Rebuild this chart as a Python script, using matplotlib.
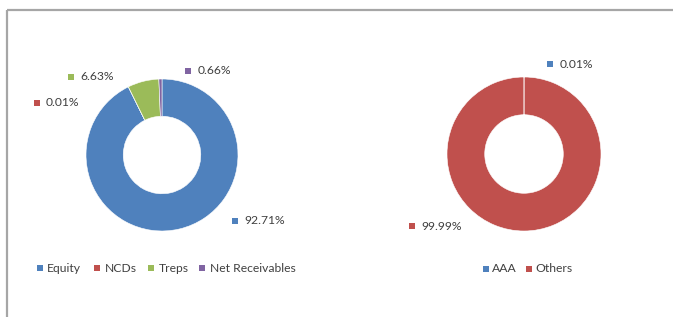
import matplotlib
matplotlib.use("Agg")
import matplotlib.pyplot as plt

# asset allocation (left donut)
alloc_labels = ["Equity", "NCDs", "Treps", "Net Receivables"]
alloc_values = [92.71, 0.01, 6.63, 0.66]
alloc_colors = ["#4F81BD", "#C0504D", "#9BBB59", "#8064A2"]

# rating profile (right donut)
rating_labels = ["AAA", "Others"]
rating_values = [0.01, 99.99]
rating_colors = ["#4F81BD", "#C0504D"]

W, H = 673, 317
plt.rcParams['font.family'] = ['Lato', 'DejaVu Sans']
text_col = "#404040"
fs = 8.7

fig = plt.figure(figsize=(W / 100, H / 100), dpi=100)
ax = fig.add_axes([0, 0, 1, 1])
ax.set_xlim(0, W)
ax.set_ylim(0, H)
ax.set_aspect("equal")
ax.axis("off")

def y(py):
    # pixel row from the top -> data y
    return H - py

# frame
ax.plot([6.5, W], [y(9.5), y(9.5)], color="#A6A6A6", lw=1.6, solid_capstyle="butt")
ax.plot([6.5, 6.5], [y(9.5), 0], color="#A6A6A6", lw=1.6, solid_capstyle="butt")

def donut(values, colors, cx, cy, r):
    ax.pie(values, colors=colors, center=(cx, y(cy)), radius=r,
           startangle=90, counterclock=False,
           wedgeprops=dict(width=r * 0.49, edgecolor="white", linewidth=0.4))

donut(alloc_values, alloc_colors, 162, 155, 76)
donut(rating_values, rating_colors, 524, 154, 77)
ax.set_xlim(0, W)
ax.set_ylim(0, H)

def tag(px, py, color, txt, gap):
    ax.scatter([px], [y(py)], marker="s", s=25, color=color, linewidths=0)
    ax.text(px + gap, y(py), txt, fontsize=fs, color=text_col, va="center", ha="left")

# data labels (pixel positions of the marker squares)
alloc_pos = [(234.5, 221), (36.5, 103), (70.5, 77), (188, 71)]
for (px, py), v, c in zip(alloc_pos, alloc_values, alloc_colors):
    tag(px, py, c, f"{v:.2f}%", 9.5)

rating_pos = [(550, 64), (411.5, 226)]
for (px, py), v, c in zip(rating_pos, rating_values, rating_colors):
    tag(px, py, c, f"{v:.2f}%", 9.5)

# legends
alloc_leg_x = [39.5, 97, 151, 202]
for px, lab, c in zip(alloc_leg_x, alloc_labels, alloc_colors):
    tag(px, 268, c, lab, 7.5)

rating_leg_x = [485.5, 528.5]
for px, lab, c in zip(rating_leg_x, rating_labels, rating_colors):
    tag(px, 269, c, lab, 6.5)

fig.savefig("out.png", dpi=100)
